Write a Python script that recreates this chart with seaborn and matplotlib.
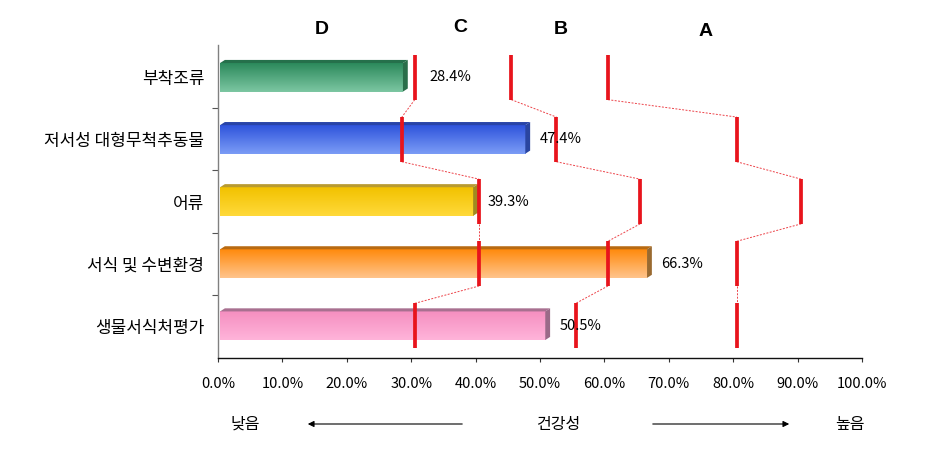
import numpy as np
import pandas as pd
import matplotlib
matplotlib.use("Agg")
import matplotlib.pyplot as plt
import matplotlib.transforms as mtransforms
import seaborn as sns
from matplotlib.colors import LinearSegmentedColormap
from matplotlib.patches import Polygon

# ---------------- data ----------------
categories = ['부착조류', '저서성 대형무척추동물', '어류', '서식 및 수변환경', '생물서식처평가']
values = [28.4, 47.4, 39.3, 66.3, 50.5]
bound_dc = [30, 28, 40, 40, 30]   # D / C boundary
bound_cb = [45, 52, 65, 60, 55]   # C / B boundary
bound_ba = [60, 80, 90, 80, 80]   # B / A boundary
grade_letters = ['D', 'C', 'B', 'A']
xticks = [0, 10, 20, 30, 40, 50, 60, 70, 80, 90, 100]
xtick_labels = [f'{t:.1f}%' for t in xticks]
bottom_labels = ['낮음', '건강성', '높음']

# ---------------- style ----------------
sns.set_theme(style='white')
plt.rcParams['font.family'] = ['Noto Sans CJK KR', 'DejaVu Sans']
plt.rcParams['text.color'] = 'black'
plt.rcParams['xtick.color'] = 'black'
plt.rcParams['ytick.color'] = 'black'

grad_colors = [('#2c8a5c', '#7cc6a2'),
               ('#2f54dc', '#7b9cf6'),
               ('#f2c200', '#ffd93a'),
               ('#ff8a0c', '#ffc48c'),
               ('#f58fc0', '#ffb4da')]
top_colors = ['#25704b', '#2844a8', '#b89a30', '#b86a12', '#a87090']
side_colors = ['#2a6e4a', '#2a45a0', '#a08a20', '#9a6a30', '#9a6a88']

fig = plt.figure(figsize=(9.35, 4.71), dpi=100)
ax = fig.add_axes([0.2332, 0.2399, 0.6888, 0.6645])

# small shifts emulating the 3D back plane of the original chart
bar_shift = ax.transData + mtransforms.ScaledTranslation(2 / 100, 0, fig.dpi_scale_trans)
mark_shift = ax.transData + mtransforms.ScaledTranslation(3.5 / 100, 0, fig.dpi_scale_trans)

df = pd.DataFrame({'category': categories, 'value': values})
sns.barplot(data=df, x='value', y='category', hue='category',
            palette=[c[0] for c in grad_colors], legend=False,
            width=0.46, orient='h', ax=ax, zorder=2)

# gradients + pseudo-3D faces
d = 0.75    # depth in x (percent)
e = 0.05    # depth in y (category units)
bars = [p for p in ax.patches][:len(categories)]
for i, patch in enumerate(bars):
    x0, y0 = patch.get_x(), patch.get_y()
    w, h = patch.get_width(), patch.get_height()
    patch.set_transform(bar_shift)
    cmap = LinearSegmentedColormap.from_list(f'g{i}', list(grad_colors[i]))
    grad = np.linspace(0, 1, 64).reshape(-1, 1)
    im = ax.imshow(grad, extent=(x0, x0 + w, y0 + h, y0), origin='upper',
                   aspect='auto', cmap=cmap, zorder=2, interpolation='bilinear')
    im.set_transform(bar_shift)
    im.set_clip_path(patch)
    patch.set_facecolor('none')
    patch.set_edgecolor('none')
    top = Polygon([(x0, y0), (x0 + d, y0 - e), (x0 + w + d, y0 - e), (x0 + w, y0)],
                  closed=True, facecolor=top_colors[i], edgecolor='none', zorder=2,
                  transform=bar_shift)
    side = Polygon([(x0 + w, y0), (x0 + w + d, y0 - e), (x0 + w + d, y0 + h - e), (x0 + w, y0 + h)],
                   closed=True, facecolor=side_colors[i], edgecolor='none', zorder=2,
                   transform=bar_shift)
    ax.add_patch(top)
    ax.add_patch(side)

# value labels
label_offset = {0: 4.4}
for i, v in enumerate(values):
    ax.text(v + label_offset.get(i, 2.5), i, f'{v:.1f}%', va='center', ha='left',
            fontsize=10.5, color='black', zorder=6)

# grade boundary markers
half = 0.36
for bounds in (bound_dc, bound_cb, bound_ba):
    for i, b in enumerate(bounds):
        ax.plot([b, b], [i - half, i + half], color='#e8141c', lw=2.7,
                solid_capstyle='butt', zorder=5, transform=mark_shift)
        if i + 1 < len(bounds):
            ax.plot([b, bounds[i + 1]], [i + half, i + 1 - half], color='#e8141c',
                    lw=0.7, ls=(0, (2, 1.5)), zorder=4, alpha=0.8, transform=mark_shift)

# axes
ax.set_xlim(0, 100)
ax.set_ylim(len(categories) - 0.48, -0.52)
ax.set_xticks(xticks)
ax.set_xticklabels(xtick_labels, fontsize=10.5)
ax.set_xlabel('')
ax.set_ylabel('')
ax.set_yticks(range(len(categories)))
ax.set_yticklabels(categories, fontsize=12.2)
ax.set_yticks([i + 0.5 for i in range(len(categories) - 1)], minor=True)
ax.tick_params(axis='y', which='major', length=0, pad=10)
ax.tick_params(axis='y', which='minor', length=4, color='#555555', width=0.8, left=True)
ax.tick_params(axis='x', which='major', length=3, color='#333333', width=0.8,
               bottom=True, pad=11)
for s in ('top', 'right'):
    ax.spines[s].set_visible(False)
ax.spines['left'].set_color('#808080')
ax.spines['left'].set_linewidth(1.0)
ax.spines['bottom'].set_color('#111111')
ax.spines['bottom'].set_linewidth(1.0)
ax.grid(False)

# grade letters
letter_pos = [(322, 30), (460, 28), (561, 30), (706, 32)]
for L, (px, py) in zip(grade_letters, letter_pos):
    fig.text(px / 935, 1 - py / 471, L, ha='center', va='center', fontsize=14,
             fontweight='bold', family='Liberation Sans', color='black')

# bottom health scale
yb = 1 - 424 / 471
fig.text(245 / 935, yb, bottom_labels[0], ha='center', va='center', fontsize=11.5)
fig.text(558 / 935, yb, bottom_labels[1], ha='center', va='center', fontsize=11.5)
fig.text(850 / 935, yb, bottom_labels[2], ha='center', va='center', fontsize=11.5)
ap = dict(arrowstyle='-|>', color='black', lw=0.8, mutation_scale=9)
fig.add_artist(matplotlib.patches.FancyArrowPatch((465 / 935, yb), (305 / 935, yb),
               transform=fig.transFigure, **ap))
fig.add_artist(matplotlib.patches.FancyArrowPatch((650 / 935, yb), (792 / 935, yb),
               transform=fig.transFigure, **ap))

fig.savefig('out.png', dpi=100)
